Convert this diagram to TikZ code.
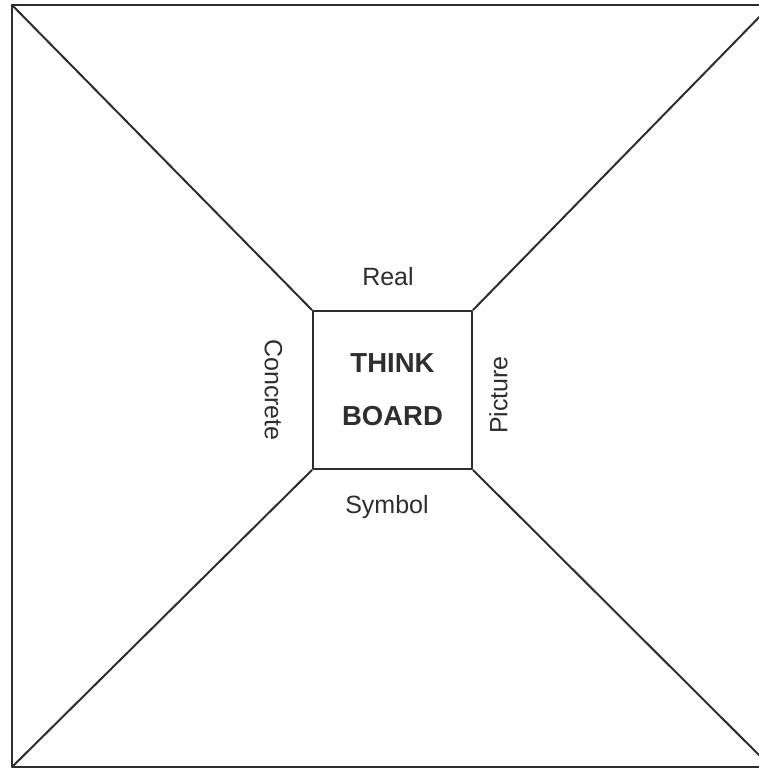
\documentclass[tikz,border=0pt]{standalone}
\usepackage{fontspec}
\setmainfont{Liberation Sans}
\definecolor{ink}{HTML}{2E2E2E}

\begin{document}
\begin{tikzpicture}[x=1pt,y=-1pt,line cap=round,line join=round]
  \useasboundingbox (0,0) rectangle (759,770);
  \fill[white] (0,0) rectangle (759,770);
  % outer frame (its right edge runs past the page)
  \coordinate (tl) at (12,5);
  \coordinate (tr) at (771,5);
  \coordinate (bl) at (12,767);
  \coordinate (br) at (771,767);
  \draw[ink,line width=2pt] (tl) rectangle (br);
  \node[draw=ink,line width=2pt,minimum width=159pt,minimum height=158pt,inner sep=0pt,
    align=center,text=ink,font=\bfseries\fontsize{27.5}{53}\selectfont] (board) at (392.5,390) {THINK\\BOARD};
  \draw[ink,line width=2pt] (tl)--(board.north west) (tr)--(board.north east)
    (bl)--(board.south west) (br)--(board.south east);
  \node[text=ink,font=\fontsize{25}{30}\selectfont] (real) at (388,277) {Real};
  \node[text=ink,font=\fontsize{25}{30}\selectfont] (symbol) at (387,507) {Symbol};
  \node[text=ink,font=\fontsize{25}{30}\selectfont,rotate=-90] (concrete) at (273.5,390) {Concrete};
  \node[text=ink,font=\fontsize{25}{30}\selectfont,rotate=90] (picture) at (498.5,395) {Picture};
\end{tikzpicture}
\end{document}
